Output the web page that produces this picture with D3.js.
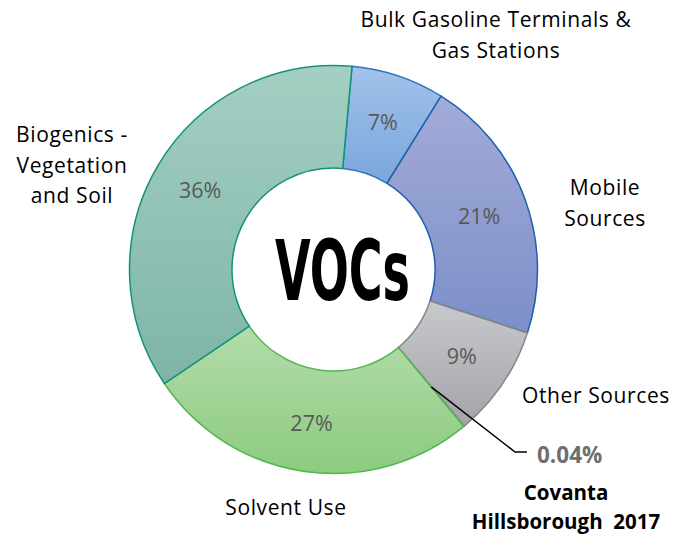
<!DOCTYPE html>
<html>
<head>
<meta charset="utf-8">
<script src="https://cdn.jsdelivr.net/npm/d3@7"></script>
<style>
  body { margin: 0; background: #fff; }
  svg { display: block; }
</style>
</head>
<body>
<div id="chart"></div>
<script>
// VOC emission sources, percent of total
var categories = ["Bulk Gasoline Terminals & Gas Stations", "Mobile Sources", "Other Sources",
                  "Covanta Hillsborough 2017", "Solvent Use", "Biogenics - Vegetation and Soil"];
var values = [7.4, 21.2, 8.9, 0.04, 26.6, 35.9];
var labelLines = [
    ["Bulk Gasoline Terminals &", "Gas Stations"],
    ["Mobile", "Sources"],
    ["Other Sources"],
    ["Covanta", "Hillsborough  2017"],
    ["Solvent Use"],
    ["Biogenics -", "Vegetation", "and Soil"]
];

var width = 688, height = 535;
var cx = 333.5, cy = 269.5;
var outerR = 204, innerR = 101.5;

var fills = [
    ["#a2c2ea", "#7aa6dd"],
    ["#a3abd8", "#7c8fc8"],
    ["#c8c9cc", "#a3a4a8"],
    ["#c8c9cc", "#a3a4a8"],
    ["#b3dcab", "#8ccb7f"],
    ["#a4cfc3", "#7db5a6"]
];
var strokes = ["#2e78bf", "#1f5fae", "#878787", "#878787", "#52b84c", "#13917b"];

// where each outside category label sits (centre x, first baseline y)
var labelAt = [[496, 27], [605, 195], [596, 403], [566, 500], [286, 515], [72, 142]];

var svg = d3.select("#chart").append("svg")
    .attr("width", width)
    .attr("height", height);

var defs = svg.append("defs");
fills.forEach(function(f, i) {
    var g = defs.append("linearGradient")
        .attr("id", "grad" + i)
        .attr("x1", 0).attr("y1", 0).attr("x2", 0).attr("y2", 1);
    g.append("stop").attr("offset", "0%").attr("stop-color", f[0]);
    g.append("stop").attr("offset", "100%").attr("stop-color", f[1]);
});

var start = 5.2 * Math.PI / 180;
var pie = d3.pie().sort(null).value(function(d) { return d; })
    .startAngle(start).endAngle(start + 2 * Math.PI);
var arcs = pie(values);

var arc = d3.arc().innerRadius(innerR).outerRadius(outerR);
var labelArc = d3.arc().innerRadius(155).outerRadius(155);

var g = svg.append("g").attr("transform", "translate(" + cx + "," + cy + ")");

g.selectAll("path.slice")
    .data(arcs)
    .enter()
    .append("path")
    .attr("class", "slice")
    .attr("d", arc)
    .attr("fill", function(d, i) { return "url(#grad" + i + ")"; })
    .attr("stroke", function(d, i) { return strokes[i]; })
    .attr("stroke-width", 1.5)
    .attr("stroke-linejoin", "round");

// percent labels inside the ring
g.selectAll("text.pct")
    .data(arcs.filter(function(d) { return d.value >= 1; }))
    .enter()
    .append("text")
    .attr("class", "pct")
    .attr("transform", function(d) { return "translate(" + labelArc.centroid(d) + ")"; })
    .attr("text-anchor", "middle")
    .attr("dy", "0.36em")
    .attr("font-family", "'Open Sans', sans-serif")
    .attr("font-size", 21.5)
    .attr("fill", "#595959")
    .text(function(d) { return Math.round(d.value) + "%"; });

// leader for the tiny Covanta slice
var cov = arcs[3];
var c0 = arc.centroid(cov);
svg.append("polyline")
    .attr("points", [[cx + c0[0], cy + c0[1]], [515, 452], [527, 452]].join(" "))
    .attr("fill", "none")
    .attr("stroke", "#000")
    .attr("stroke-width", 1.5);

svg.append("text")
    .attr("x", 537).attr("y", 463)
    .attr("font-family", "'Open Sans', sans-serif")
    .attr("font-weight", "bold")
    .attr("font-size", 22.5)
    .attr("fill", "#6e6e6e")
    .text(d3.format(".2f")(cov.value) + "%");

// category labels
labelLines.forEach(function(lines, i) {
    var t = svg.append("text")
        .attr("x", labelAt[i][0])
        .attr("y", labelAt[i][1])
        .attr("text-anchor", "middle")
        .attr("font-family", "'Open Sans', sans-serif")
        .attr("font-size", i == 3 ? 20.5 : 21)
        .attr("letter-spacing", i == 3 ? 0 : 0.6)
        .attr("font-weight", i == 3 ? "bold" : "normal")
        .attr("fill", "#000");
    lines.forEach(function(s, j) {
        t.append("tspan")
            .attr("x", labelAt[i][0])
            .attr("dy", j == 0 ? 0 : (i == 3 ? 29 : 30.5))
            .attr("xml:space", "preserve")
            .text(s);
    });
});

// centre title
svg.append("text")
    .attr("x", 275).attr("y", 300)
    .attr("font-family", "'Liberation Sans Narrow', 'DejaVu Sans Condensed', sans-serif")
    .attr("font-weight", "bold")
    .attr("font-size", 84)
    .attr("textLength", 135)
    .attr("lengthAdjust", "spacingAndGlyphs")
    .attr("fill", "#000")
    .text("VOCs");
</script>
</body>
</html>
